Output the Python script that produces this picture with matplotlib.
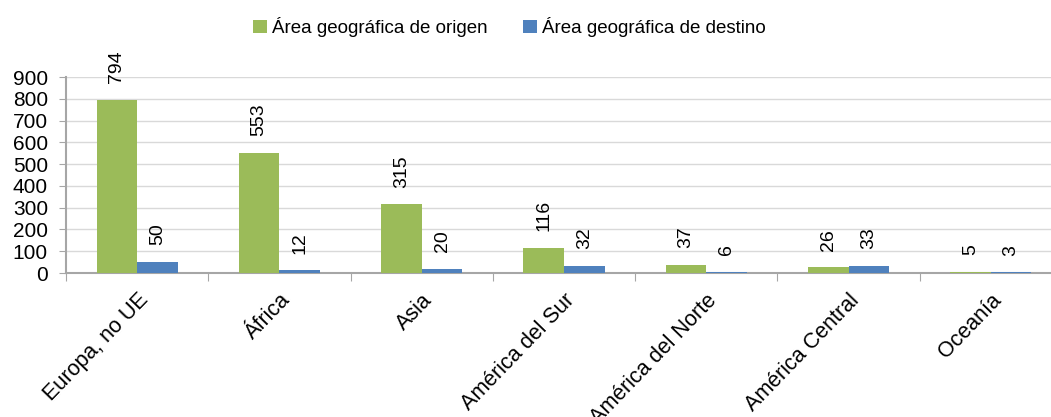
import numpy as np
import matplotlib.pyplot as plt

plt.rcParams['font.family'] = ['Liberation Sans', 'DejaVu Sans']

categories = ["Europa, no UE", "África", "Asia", "América del Sur",
              "América del Norte", "América Central", "Oceanía"]
origen = [794, 553, 315, 116, 37, 26, 5]
destino = [50, 12, 20, 32, 6, 33, 3]
series_names = ["Área geográfica de origen", "Área geográfica de destino"]

green = "#9BBB59"
blue = "#4F81BD"
axis_grey = "#A6A6A6"

fig = plt.figure(figsize=(10.51, 4.17), dpi=100)
ax = fig.add_axes([0.0628, 0.3453, 0.9477, 0.47])

x = np.arange(len(categories))
w = 0.285
b1 = ax.bar(x - w / 2, origen, w, color=green, label=series_names[0], zorder=3)
b2 = ax.bar(x + w / 2, destino, w, color=blue, label=series_names[1], zorder=3)

for bars, vals in ((b1, origen), (b2, destino)):
    for rect, v in zip(bars, vals):
        ax.annotate(str(v), (rect.get_x() + rect.get_width() / 2, v),
                    xytext=(0, 12), textcoords="offset points",
                    rotation=90, ha="center", va="bottom", fontsize=14,
                    color="#000000")

ax.set_xlim(-0.5, len(categories) - 0.5)
ax.set_ylim(0, 900)
ax.set_yticks(np.arange(0, 901, 100))
ax.tick_params(axis="y", labelsize=15, length=5, color=axis_grey, pad=8)
ax.yaxis.grid(True, color="#D9D9D9", linewidth=1, zorder=0)

ax.set_xticks(np.arange(-0.5, len(categories) + 0.5, 1.0))
ax.set_xticklabels([])
ax.set_xticks(x, minor=True)
ax.set_xticklabels(categories, minor=True, rotation=46, ha="right",
                   rotation_mode="anchor", fontsize=15.5)
ax.tick_params(axis="x", which="major", length=6, color=axis_grey)
ax.tick_params(axis="x", which="minor", length=0, pad=12)

for s in ("top", "right"):
    ax.spines[s].set_visible(False)
for s in ("left", "bottom"):
    ax.spines[s].set_color(axis_grey)
    ax.spines[s].set_linewidth(1.5)

fig.legend(handles=[b1, b2], loc="center", bbox_to_anchor=(0.485, 0.935),
           ncol=2, frameon=False, fontsize=13.5, handlelength=0.7,
           handleheight=0.7, handletextpad=0.3, columnspacing=1.9)

fig.savefig("out.png", dpi=100)
